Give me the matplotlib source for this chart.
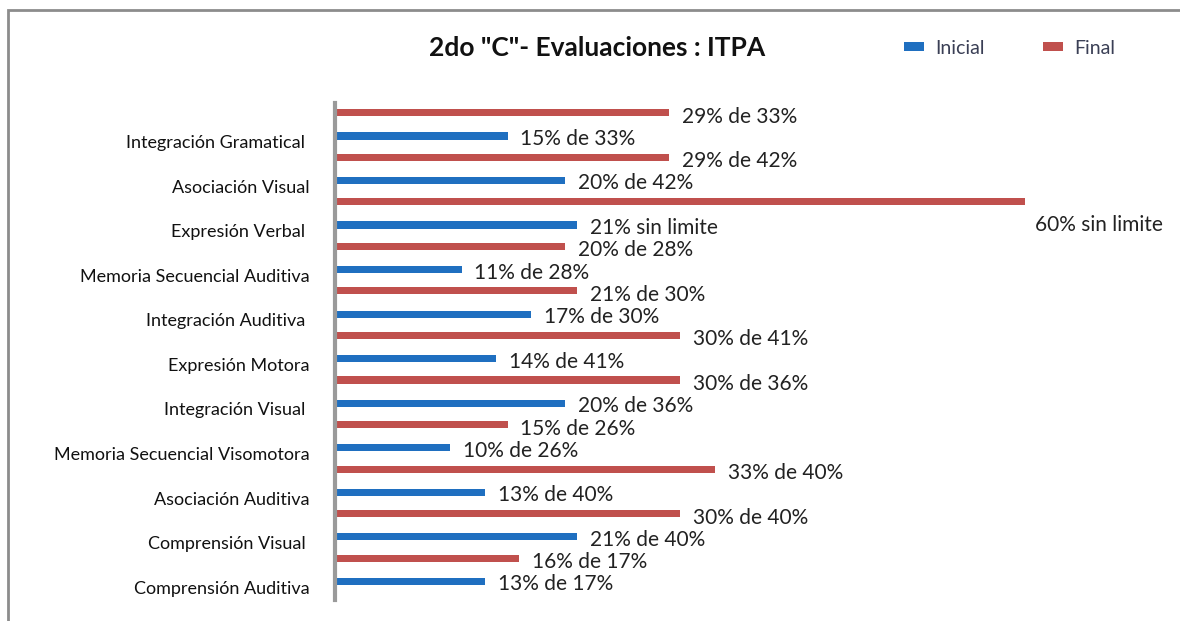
import matplotlib.pyplot as plt
from matplotlib.patches import Rectangle

plt.rcParams['font.family'] = ['Lato', 'DejaVu Sans']

categorias = ["Comprensión Auditiva", "Comprensión Visual ", "Asociación Auditiva",
              "Memoria Secuencial Visomotora", "Integración Visual ", "Expresión Motora",
              "Integración Auditiva ", "Memoria Secuencial Auditiva", "Expresión Verbal ",
              "Asociación Visual", "Integración Gramatical "]
inicial = [13, 21, 13, 10, 20, 14, 17, 11, 21, 20, 15]
final = [16, 30, 33, 15, 30, 30, 21, 20, 60, 29, 29]
etiq_inicial = ["13% de 17%", "21% de 40%", "13% de 40%", "10% de 26%", "20% de 36%",
                "14% de 41%", "17% de 30%", "11% de 28%", "21% sin limite", "20% de 42%",
                "15% de 33%"]
etiq_final = ["16% de 17%", "30% de 40%", "33% de 40%", "15% de 26%", "30% de 36%",
              "30% de 41%", "21% de 30%", "20% de 28%", "60% sin limite", "29% de 42%",
              "29% de 33%"]

azul = "#1f6fc0"
rojo = "#c0504d"

fig = plt.figure(figsize=(11.8, 6.21), dpi=100)
# marco del grafico
fig.patches.append(Rectangle((8 / 1180, -0.05), 1.1, 1 - 10 / 621 + 0.05,
                             transform=fig.transFigure, fill=False,
                             edgecolor="#8c8c8c", linewidth=2))

ax = fig.add_axes([335 / 1180, 1 - 600 / 621, 835 / 1180, 497 / 621])
pos = list(range(len(categorias)))
h = 0.16
ax.barh([p + 0.13 for p in pos], inicial, height=h, color=azul, label="Inicial")
ax.barh([p + 0.65 for p in pos], final, height=h, color=rojo, label="Final")

for i in pos:
    ax.annotate(etiq_inicial[i], (inicial[i], i + 0.13), xytext=(13, -3),
                textcoords="offset pixels", va="center", ha="left", fontsize=15,
                color="#222222", annotation_clip=False)
    off = (10, -23) if final[i] >= 50 else (13, -4)
    ax.annotate(etiq_final[i], (final[i], i + 0.65), xytext=off,
                textcoords="offset pixels", va="center", ha="left", fontsize=15,
                color="#222222", annotation_clip=False)

ax.set_xlim(0, 835 / 11.5)
ax.set_ylim(-0.29, 10.87)
ax.set_yticks(pos)
ax.set_yticklabels(categorias, fontsize=13, color="#111111")
ax.tick_params(axis="y", length=0, pad=18)
ax.set_xticks([])
for s in ["top", "right", "bottom"]:
    ax.spines[s].set_visible(False)
ax.spines["left"].set_color("#9a9a9a")
ax.spines["left"].set_linewidth(3)

fig.text(597 / 1180, 1 - 48 / 621, '2do "C"- Evaluaciones : ITPA', ha="center",
         va="center", fontsize=19, fontweight="bold", color="#111111")
fig.legend(loc="center", bbox_to_anchor=(1010 / 1180, 1 - 48 / 621), ncol=2,
           frameon=False, fontsize=14, handlelength=1.0, handleheight=0.4,
           handletextpad=0.6, columnspacing=3, labelcolor="#3a3f55")

fig.savefig("out.png", dpi=100)
